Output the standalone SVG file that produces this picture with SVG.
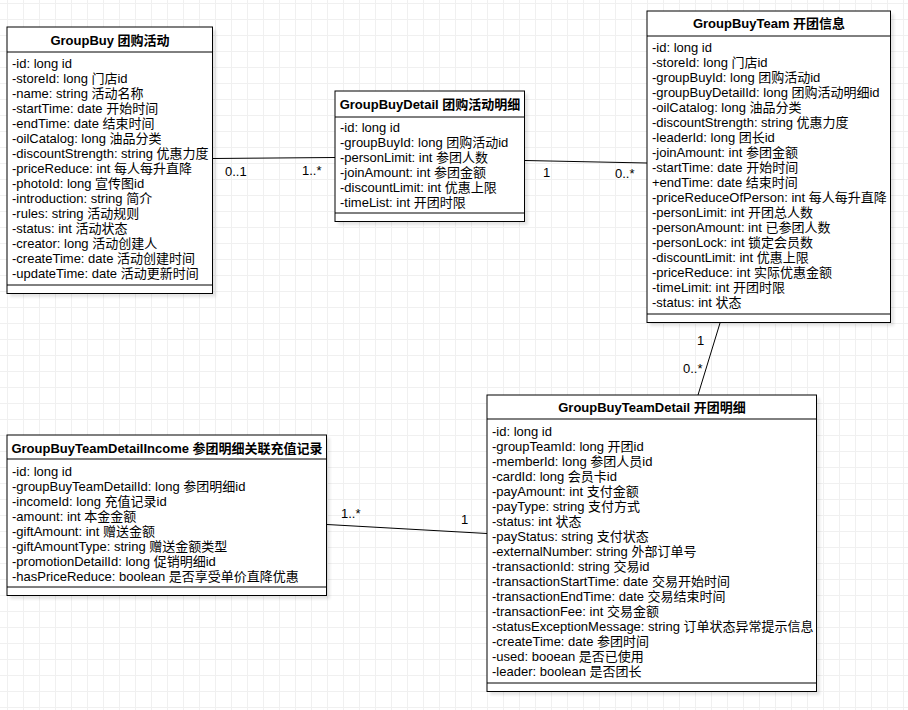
<svg xmlns="http://www.w3.org/2000/svg" width="908" height="710" viewBox="0 0 908 710">
  <defs>
    <pattern id="grid" x="7" y="3" width="16" height="16" patternUnits="userSpaceOnUse">
      <rect x="0" y="0" width="1" height="16" fill="#f0f0f0"/>
      <rect x="0" y="0" width="16" height="1" fill="#f0f0f0"/>
    </pattern>
    <filter id="soft" x="-10%" y="-10%" width="120%" height="120%">
      <feGaussianBlur stdDeviation="1.5"/>
    </filter>
  </defs>
  <style>
    .shadow { fill: #000; opacity: 0.1; filter: url(#soft); }
    .box { fill: #fff; stroke: #000; stroke-width: 1; }
    .div { stroke: #000; stroke-width: 1; fill: none; }
    .title { font-family: "Liberation Sans", "Noto Sans CJK SC", sans-serif; font-size: 13px; font-weight: bold; fill: #000; text-anchor: middle; }
    .attr { font-family: "Liberation Sans", "Noto Sans CJK SC", sans-serif; font-size: 13px; fill: #000; }
    .edge { stroke: #000; stroke-width: 1; fill: none; }
    .lbl { font-family: "Liberation Sans", "Noto Sans CJK SC", sans-serif; font-size: 13px; fill: #000; }
  </style>

  <rect width="908" height="710" fill="#fff"/>
  <rect width="908" height="710" fill="url(#grid)"/>

  <!-- GroupBuy -->
  <g id="groupBuy">
    <rect class="shadow" x="10" y="30" width="206" height="267"/>
    <rect class="box" x="7" y="27" width="205.5" height="266.5"/>
    <line class="div" x1="7" y1="52" x2="212.5" y2="52"/>
    <line class="div" x1="7" y1="285" x2="212.5" y2="285"/>
    <text class="title" x="110" y="44.5">GroupBuy 团购活动</text>
    <text class="attr" y="53">
      <tspan x="12" dy="15">-id: long id</tspan>
      <tspan x="12" dy="15">-storeId: long 门店id</tspan>
      <tspan x="12" dy="15">-name: string 活动名称</tspan>
      <tspan x="12" dy="15">-startTime: date 开始时间</tspan>
      <tspan x="12" dy="15">-endTime: date 结束时间</tspan>
      <tspan x="12" dy="15">-oilCatalog: long 油品分类</tspan>
      <tspan x="12" dy="15">-discountStrength: string 优惠力度</tspan>
      <tspan x="12" dy="15">-priceReduce: int 每人每升直降</tspan>
      <tspan x="12" dy="15">-photoId: long 宣传图id</tspan>
      <tspan x="12" dy="15">-introduction: string 简介</tspan>
      <tspan x="12" dy="15">-rules: string 活动规则</tspan>
      <tspan x="12" dy="15">-status: int 活动状态</tspan>
      <tspan x="12" dy="15">-creator: long 活动创建人</tspan>
      <tspan x="12" dy="15">-createTime: date 活动创建时间</tspan>
      <tspan x="12" dy="15">-updateTime: date 活动更新时间</tspan>
    </text>
  </g>

  <!-- GroupBuyDetail -->
  <g id="groupBuyDetail">
    <rect class="shadow" x="338" y="94" width="190" height="131"/>
    <rect class="box" x="335" y="91" width="189.5" height="130.5"/>
    <line class="div" x1="335" y1="117" x2="524.5" y2="117"/>
    <line class="div" x1="335" y1="213" x2="524.5" y2="213"/>
    <text class="title" x="430" y="108.5">GroupBuyDetail 团购活动明细</text>
    <text class="attr" y="117">
      <tspan x="340" dy="15">-id: long id</tspan>
      <tspan x="340" dy="15">-groupBuyId: long 团购活动id</tspan>
      <tspan x="340" dy="15">-personLimit: int 参团人数</tspan>
      <tspan x="340" dy="15">-joinAmount: int 参团金额</tspan>
      <tspan x="340" dy="15">-discountLimit: int 优惠上限</tspan>
      <tspan x="340" dy="15">-timeList: int 开团时限</tspan>
    </text>
  </g>

  <!-- GroupBuyTeam -->
  <g id="groupBuyTeam">
    <rect class="shadow" x="650" y="14" width="244" height="312"/>
    <rect class="box" x="647" y="11" width="243.5" height="311.5"/>
    <line class="div" x1="647" y1="36" x2="890.5" y2="36"/>
    <line class="div" x1="647" y1="314" x2="890.5" y2="314"/>
    <text class="title" x="769" y="27.5">GroupBuyTeam 开团信息</text>
    <text class="attr" y="37">
      <tspan x="652" dy="15">-id: long id</tspan>
      <tspan x="652" dy="15">-storeId: long 门店id</tspan>
      <tspan x="652" dy="15">-groupBuyId: long 团购活动id</tspan>
      <tspan x="652" dy="15">-groupBuyDetailId: long 团购活动明细id</tspan>
      <tspan x="652" dy="15">-oilCatalog: long 油品分类</tspan>
      <tspan x="652" dy="15">-discountStrength: string 优惠力度</tspan>
      <tspan x="652" dy="15">-leaderId: long 团长id</tspan>
      <tspan x="652" dy="15">-joinAmount: int 参团金额</tspan>
      <tspan x="652" dy="15">-startTime: date 开始时间</tspan>
      <tspan x="652" dy="15">+endTime: date 结束时间</tspan>
      <tspan x="652" dy="15">-priceReduceOfPerson: int 每人每升直降</tspan>
      <tspan x="652" dy="15">-personLimit: int 开团总人数</tspan>
      <tspan x="652" dy="15">-personAmount: int 已参团人数</tspan>
      <tspan x="652" dy="15">-personLock: int 锁定会员数</tspan>
      <tspan x="652" dy="15">-discountLimit: int 优惠上限</tspan>
      <tspan x="652" dy="15">-priceReduce: int 实际优惠金额</tspan>
      <tspan x="652" dy="15">-timeLimit: int 开团时限</tspan>
      <tspan x="652" dy="15">-status: int 状态</tspan>
    </text>
  </g>

  <!-- GroupBuyTeamDetailIncome -->
  <g id="groupBuyTeamDetailIncome">
    <rect class="shadow" x="10" y="438" width="320" height="161"/>
    <rect class="box" x="7" y="435" width="319.5" height="160.5"/>
    <line class="div" x1="7" y1="459" x2="326.5" y2="459"/>
    <line class="div" x1="7" y1="587" x2="326.5" y2="587"/>
    <text class="title" x="167" y="452.5">GroupBuyTeamDetailIncome 参团明细关联充值记录</text>
    <text class="attr" y="461">
      <tspan x="12" dy="15">-id: long id</tspan>
      <tspan x="12" dy="15">-groupBuyTeamDetailId: long 参团明细id</tspan>
      <tspan x="12" dy="15">-incomeId: long 充值记录id</tspan>
      <tspan x="12" dy="15">-amount: int 本金金额</tspan>
      <tspan x="12" dy="15">-giftAmount: int 赠送金额</tspan>
      <tspan x="12" dy="15">-giftAmountType: string 赠送金额类型</tspan>
      <tspan x="12" dy="15">-promotionDetailId: long 促销明细id</tspan>
      <tspan x="12" dy="15">-hasPriceReduce: boolean 是否享受单价直降优惠</tspan>
    </text>
  </g>

  <!-- GroupBuyTeamDetail -->
  <g id="groupBuyTeamDetail">
    <rect class="shadow" x="490" y="398" width="330" height="297"/>
    <rect class="box" x="487" y="395" width="329.5" height="296.5"/>
    <line class="div" x1="487" y1="419" x2="816.5" y2="419"/>
    <line class="div" x1="487" y1="683" x2="816.5" y2="683"/>
    <text class="title" x="652" y="411.5">GroupBuyTeamDetail 开团明细</text>
    <text class="attr" y="421">
      <tspan x="492" dy="15">-id: long id</tspan>
      <tspan x="492" dy="15">-groupTeamId: long 开团id</tspan>
      <tspan x="492" dy="15">-memberId: long 参团人员id</tspan>
      <tspan x="492" dy="15">-cardId: long 会员卡id</tspan>
      <tspan x="492" dy="15">-payAmount: int 支付金额</tspan>
      <tspan x="492" dy="15">-payType: string 支付方式</tspan>
      <tspan x="492" dy="15">-status: int 状态</tspan>
      <tspan x="492" dy="15">-payStatus: string 支付状态</tspan>
      <tspan x="492" dy="15">-externalNumber: string 外部订单号</tspan>
      <tspan x="492" dy="15">-transactionId: string 交易id</tspan>
      <tspan x="492" dy="15">-transactionStartTime: date 交易开始时间</tspan>
      <tspan x="492" dy="15">-transactionEndTime: date 交易结束时间</tspan>
      <tspan x="492" dy="15">-transactionFee: int 交易金额</tspan>
      <tspan x="492" dy="15">-statusExceptionMessage: string 订单状态异常提示信息</tspan>
      <tspan x="492" dy="15">-createTime: date 参团时间</tspan>
      <tspan x="492" dy="15">-used: booean 是否已使用</tspan>
      <tspan x="492" dy="15">-leader: boolean 是否团长</tspan>
    </text>
  </g>

  <!-- Associations with multiplicities -->
  <g id="connectors">
    <line class="edge" x1="213" y1="158.5" x2="335" y2="157.5"/>
    <text class="lbl" x="225" y="176">0..1</text>
    <text class="lbl" x="302" y="175">1..*</text>

    <line class="edge" x1="525" y1="160.5" x2="647" y2="163"/>
    <text class="lbl" x="543" y="177">1</text>
    <text class="lbl" x="615" y="178">0..*</text>

    <line class="edge" x1="720" y1="323" x2="698" y2="395"/>
    <text class="lbl" x="697" y="345">1</text>
    <text class="lbl" x="683" y="373">0..*</text>

    <line class="edge" x1="327" y1="524.5" x2="487" y2="533.5"/>
    <text class="lbl" x="341" y="518">1..*</text>
    <text class="lbl" x="461" y="524">1</text>
  </g>
</svg>
